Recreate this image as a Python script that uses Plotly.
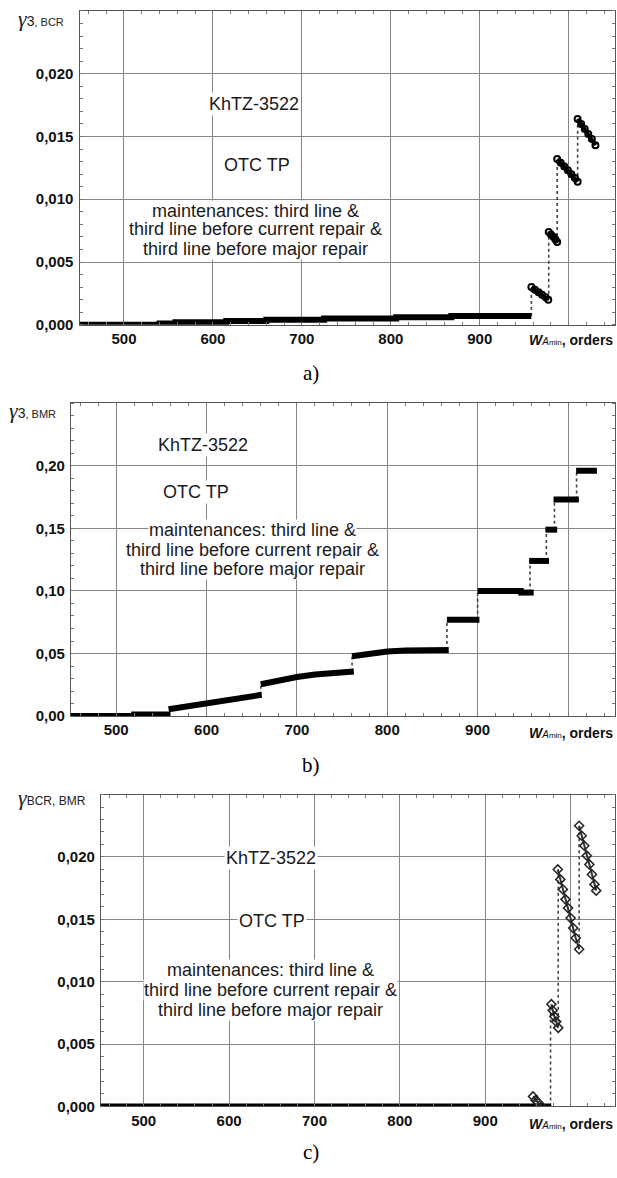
import plotly.graph_objects as go

# ---------------- data ----------------
x_tickvals = [500, 600, 700, 800, 900, 1000]
x_ticktext = ["500", "600", "700", "800", "900", ""]

# panel a) gamma_3,BCR
a_step_x = [450, 540, 558, 615, 660, 725, 806, 868, 958]
a_step_y = [0.0, 0.0001, 0.0002, 0.0003, 0.0004, 0.0005, 0.0006, 0.0007, 0.0007]
a_seg1_x = [958, 962, 966, 970, 974, 977]
a_seg1_y = [0.0030, 0.0028, 0.0026, 0.0024, 0.0022, 0.0020]
a_seg2_x = [977.5, 980, 983, 985, 987]
a_seg2_y = [0.0074, 0.0072, 0.0070, 0.0068, 0.0066]
a_seg3_x = [987, 991, 995, 999, 1003, 1007, 1010]
a_seg3_y = [0.0132, 0.0129, 0.0126, 0.0123, 0.0120, 0.0117, 0.0114]
a_seg4_x = [1010, 1014, 1018, 1022, 1026, 1030]
a_seg4_y = [0.0164, 0.0160, 0.0156, 0.0152, 0.0148, 0.0143]
a_jump_x = [958, 977.5, 987, 1010]
a_jump_lo = [0.0007, 0.0020, 0.0066, 0.0114]
a_jump_hi = [0.0030, 0.0074, 0.0132, 0.0164]
a_yticks = [0.0, 0.005, 0.010, 0.015, 0.020]
a_yticktext = ["0,000", "0,005", "0,010", "0,015", "0,020"]

# panel b) gamma_3,BMR
b_c0_x = [450, 520, 520, 560]
b_c0_y = [0.0, 0.0, 0.0013, 0.0013]
b_c1_x = [558, 580, 600, 620, 640, 661]
b_c1_y = [0.0055, 0.0080, 0.0102, 0.0124, 0.0146, 0.0170]
b_c2_x = [660, 680, 700, 720, 740, 763]
b_c2_y = [0.0255, 0.0287, 0.0312, 0.0332, 0.0346, 0.0356]
b_c3_x = [761, 780, 800, 820, 840, 868]
b_c3_y = [0.0478, 0.0502, 0.0516, 0.0524, 0.0527, 0.0528]
b_bar_start = [866, 900, 945, 957, 975, 984, 1009]
b_bar_end = [902, 951, 962, 979, 988, 1012, 1032]
b_bar_val = [0.077, 0.100, 0.0987, 0.124, 0.149, 0.173, 0.196]
b_jump_x = [660, 761, 866, 900, 958, 976, 985, 1009.5]
b_jump_lo = [0.0170, 0.0356, 0.0528, 0.077, 0.0987, 0.124, 0.149, 0.173]
b_jump_hi = [0.0255, 0.0478, 0.077, 0.100, 0.124, 0.149, 0.173, 0.196]
b_yticks = [0.0, 0.05, 0.10, 0.15, 0.20]
b_yticktext = ["0,00", "0,05", "0,10", "0,15", "0,20"]

# panel c) gamma_BCR,BMR
c_zero_x = [450, 957, 966, 977]
c_zero_y = [0.0, 0.0, 0.0, 0.0]
c_seg1_x = [956, 959, 962, 966]
c_seg1_y = [0.0008, 0.0005, 0.0003, 0.0000]
c_seg2_x = [977.5, 979, 981, 983, 985.5]
c_seg2_y = [0.0082, 0.0077, 0.0072, 0.0068, 0.0063]
c_seg3_x = [985, 988, 991, 994, 997, 1000, 1003, 1006, 1010]
c_seg3_y = [0.0190, 0.0182, 0.0174, 0.0166, 0.0159, 0.0151, 0.0143, 0.0135, 0.0126]
c_seg4_x = [1010, 1013, 1016, 1019, 1022, 1025, 1028, 1030]
c_seg4_y = [0.0225, 0.0217, 0.0209, 0.0201, 0.0194, 0.0186, 0.0178, 0.0173]
c_jump_x = [976.5, 985.5, 1010]
c_jump_lo = [0.0, 0.0063, 0.0126]
c_jump_hi = [0.0082, 0.0190, 0.0225]
c_yticks = [0.0, 0.005, 0.010, 0.015, 0.020]
c_yticktext = ["0,000", "0,005", "0,010", "0,015", "0,020"]

label_model = "KhTZ-3522"
label_otc = "OTC TP"
label_maint = ["maintenances: third line &",
               "third line before current repair &",
               "third line before major repair"]
captions = ["a)", "b)", "c)"]

# ---------------- layout helpers ----------------
W, H = 617, 1178
def px(x): return x / W
def py(y): return 1 - y / H

# panel boxes in pixels: left, right, top, bottom
boxes = [(79.5, 615, 11, 327), (71, 615, 406, 721), (101, 615, 800, 1114)]

fig = go.Figure()
SANS = "Liberation Sans, Arial, sans-serif"
SERIF = "Liberation Serif, Times New Roman, serif"

def jumps(xs, lo, hi):
    X, Y = [], []
    for x, l, h in zip(xs, lo, hi):
        X += [x, x, None]; Y += [l, h, None]
    return X, Y

def bars(s, e, v):
    X, Y = [], []
    for a, b, c in zip(s, e, v):
        X += [a, b, None]; Y += [c, c, None]
    return X, Y

DASH = dict(color="#444", width=1.6, dash="3px,3px")

# panel a
xa, ya = "x", "y"
jx, jy = jumps(a_jump_x, a_jump_lo, a_jump_hi)
fig.add_trace(go.Scatter(x=jx, y=jy, mode="lines", line=DASH, xaxis=xa, yaxis=ya))
fig.add_trace(go.Scatter(x=a_step_x, y=a_step_y, mode="lines",
                         line=dict(color="black", width=6, shape="hv"), xaxis=xa, yaxis=ya))
for sx, sy in [(a_seg1_x, a_seg1_y), (a_seg2_x, a_seg2_y), (a_seg3_x, a_seg3_y), (a_seg4_x, a_seg4_y)]:
    fig.add_trace(go.Scatter(x=sx, y=sy, mode="lines+markers",
                             line=dict(color="black", width=4),
                             marker=dict(symbol="circle-open", size=6, color="black", line=dict(width=2)),
                             xaxis=xa, yaxis=ya))

# panel b
xb, yb = "x2", "y2"
jx, jy = jumps(b_jump_x, b_jump_lo, b_jump_hi)
fig.add_trace(go.Scatter(x=jx, y=jy, mode="lines", line=DASH, xaxis=xb, yaxis=yb))
for sx, sy in [(b_c0_x, b_c0_y), (b_c1_x, b_c1_y), (b_c2_x, b_c2_y), (b_c3_x, b_c3_y)]:
    fig.add_trace(go.Scatter(x=sx, y=sy, mode="lines", line=dict(color="black", width=6),
                             xaxis=xb, yaxis=yb))
bx, by = bars(b_bar_start, b_bar_end, b_bar_val)
fig.add_trace(go.Scatter(x=bx, y=by, mode="lines", line=dict(color="black", width=6),
                         xaxis=xb, yaxis=yb))

# panel c
xc, yc = "x3", "y3"
jx, jy = jumps(c_jump_x, c_jump_lo, c_jump_hi)
fig.add_trace(go.Scatter(x=jx, y=jy, mode="lines", line=DASH, xaxis=xc, yaxis=yc))
fig.add_trace(go.Scatter(x=c_zero_x, y=c_zero_y, mode="lines", line=dict(color="black", width=6),
                         xaxis=xc, yaxis=yc))
for sx, sy in [(c_seg1_x, c_seg1_y), (c_seg2_x, c_seg2_y), (c_seg3_x, c_seg3_y), (c_seg4_x, c_seg4_y)]:
    fig.add_trace(go.Scatter(x=sx, y=sy, mode="lines+markers",
                             line=dict(color="#333", width=2),
                             marker=dict(symbol="diamond-open", size=7, color="#222", line=dict(width=1.5)),
                             xaxis=xc, yaxis=yc))

# axes
yinfo = [(a_yticks, a_yticktext, 0.025, 0.001),
         (b_yticks, b_yticktext, 0.25, 0.01),
         (c_yticks, c_yticktext, 0.025, 0.001)]
for i, (box, (ytv, ytt, ymax, ydt)) in enumerate(zip(boxes, yinfo)):
    l, r, t, b = box
    sfx = "" if i == 0 else str(i + 1)
    fig.layout["xaxis" + sfx] = dict(
        domain=[px(l), px(r)], range=[450, 1052], anchor="y" + sfx,
        tickvals=x_tickvals, ticktext=x_ticktext, ticks="", showline=True, mirror="allticks",
        linecolor="#555", linewidth=1.3, showgrid=True, gridcolor="#858585", gridwidth=1.2,
        zeroline=False, tickfont=dict(family=SANS, size=15, color="#111", weight="bold"),
        minor=dict(ticks="inside", ticklen=3, dtick=20, tick0=0, tickcolor="#777", showgrid=False),
    )
    fig.layout["yaxis" + sfx] = dict(
        domain=[py(b), py(t)], range=[0, ymax], anchor="x" + sfx,
        tickvals=ytv, ticktext=ytt, ticks="", showline=True, mirror="allticks",
        linecolor="#555", linewidth=1.3, showgrid=True, gridcolor="#858585", gridwidth=1.2,
        zeroline=False, tickfont=dict(family=SANS, size=15, color="#111", weight="bold"),
        ticklabelstandoff=2,
        minor=dict(ticks="inside", ticklen=3, dtick=ydt, tick0=0, tickcolor="#777", showgrid=False),
    )

annotations = []
TXT = dict(family=SANS, size=18, color="#1a1a1a")
# text boxes (data coordinates)
text_pos = [
    ("x", "y", (646.6, 0.0176), (649.7, 0.0127), 648, [0.0091, 0.0076, 0.0060]),
    ("x2", "y2", (595.7, 0.217), (588, 0.179), 651, [0.149, 0.133, 0.1175]),
    ("x3", "y3", (649, 0.0199), (650, 0.0149), 649, [0.01094, 0.00935, 0.00775]),
]
for xr, yr, km, ot, mx, mys in text_pos:
    annotations.append(dict(x=km[0], y=km[1], xref=xr, yref=yr, text=label_model, showarrow=False,
                            font=TXT, bgcolor="white", borderpad=1))
    annotations.append(dict(x=ot[0], y=ot[1], xref=xr, yref=yr, text=label_otc, showarrow=False,
                            font=TXT, bgcolor="white", borderpad=1))
    for line, yy in zip(label_maint, mys):
        annotations.append(dict(x=mx, y=yy, xref=xr, yref=yr, text=line, showarrow=False,
                                font=TXT, bgcolor="white", borderpad=0))

# y-axis titles
g = '<span style="font-family:Liberation Serif;font-style:italic;font-size:22px">γ</span>'
ytitles = [
    (16, 19, g + '<span style="font-size:14px">3</span><span style="font-size:11px">, BCR</span>'),
    (7, 413, g + '<span style="font-size:14px">3</span><span style="font-size:11px">, BMR</span>'),
    (16, 803, g + '<span style="font-size:12px">BCR, BMR</span>'),
]
for x0, y0, t in ytitles:
    annotations.append(dict(x=px(x0), y=py(y0), xref="paper", yref="paper", text=t, showarrow=False,
                            xanchor="left", yanchor="middle", font=dict(family=SANS, size=14, color="#222")))

# x-axis titles
xt = ('<b><i>W</i></b><span style="font-size:10px"><i>A</i></span>'
      '<span style="font-size:8px">min</span><b>, orders</b>')
for yy in [342, 738, 1132]:
    annotations.append(dict(x=px(615), y=py(yy), xref="paper", yref="paper", text=xt, showarrow=False,
                            xanchor="right", yanchor="middle", font=dict(family=SANS, size=14, color="#111")))

# captions
for cap, yy in zip(captions, [376, 770, 1160]):
    annotations.append(dict(x=px(311), y=py(yy), xref="paper", yref="paper", text=cap, showarrow=False,
                            xanchor="center", yanchor="middle", font=dict(family=SERIF, size=21, color="black")))

fig.update_layout(width=W, height=H, margin=dict(l=0, r=0, t=0, b=0), autosize=False,
                  paper_bgcolor="white", plot_bgcolor="white", showlegend=False,
                  annotations=annotations)

fig.write_html("out.html", config={"displayModeBar": False},
               post_script="document.body.style.margin='0';document.body.style.overflow='hidden';")
